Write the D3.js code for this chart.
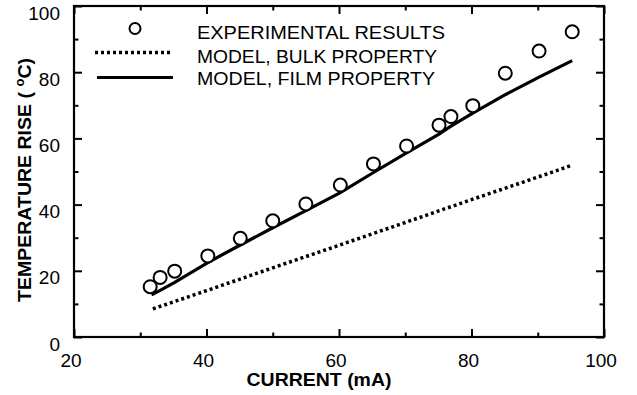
<!DOCTYPE html>
<html>
<head>
<meta charset="utf-8">
<script src="https://cdn.jsdelivr.net/npm/d3@7"></script>
<style>
  body { margin: 0; background: #fff; }
  text { font-family: "Liberation Sans", Arial, Helvetica, sans-serif; fill: #000; }
</style>
</head>
<body>
<div id="chart-area"></div>
<script>
// experimental points
const expCurrent = [31.5, 33.0, 35.2, 40.2, 45.1, 50.0, 55.0, 60.2, 65.2, 70.2, 75.1, 76.9, 80.2, 85.1, 90.2, 95.2];
const expRise    = [15.2, 18.0, 19.9, 24.5, 29.8, 35.1, 40.2, 45.9, 52.3, 57.7, 64.0, 66.6, 69.9, 79.7, 86.4, 92.2];

// model, film property (solid)
const filmCurrent = [31.7, 33.0, 35.2, 40.2, 45.1, 50.0, 55.0, 60.2, 65.2, 70.2, 75.1, 76.9, 80.2, 85.1, 90.2, 95.2];
const filmRise    = [12.7, 14.1, 16.5, 22.5, 27.8, 33.0, 38.2, 43.6, 49.7, 55.6, 61.3, 63.7, 67.6, 73.2, 78.5, 83.5];

// model, bulk property (dotted)
const bulkCurrent = [31.9, 40, 50, 60, 70, 80, 90, 95.3];
const bulkRise    = [8.5, 14.0, 20.9, 27.7, 34.6, 41.5, 48.3, 52.0];

const xMajor = [20, 40, 60, 80, 100];
const xMinor = [30, 50, 70, 90];
const yMajor = [0, 20, 40, 60, 80, 100];
const yMinor = [10, 30, 50, 70, 90];

const legendLabels = ["EXPERIMENTAL RESULTS", "MODEL, BULK PROPERTY", "MODEL, FILM PROPERTY"];

const W = 637, H = 395;
const MARGIN = { LEFT: 74, RIGHT: 33, TOP: 6, BOTTOM: 58 };
const WIDTH = W - MARGIN.LEFT - MARGIN.RIGHT;
const HEIGHT = H - MARGIN.TOP - MARGIN.BOTTOM;

const svg = d3.select("#chart-area").append("svg")
  .attr("width", W).attr("height", H);

const g = svg.append("g")
  .attr("transform", `translate(${MARGIN.LEFT}, ${MARGIN.TOP})`);

const x = d3.scaleLinear().domain([20, 100]).range([0, WIDTH]);
const y = d3.scaleLinear().domain([0, 100]).range([HEIGHT, 0]);

// ticks (all pointing inward)
function tickAxis(axis, values, size, transform) {
  const a = g.append("g")
    .attr("transform", transform)
    .call(axis.tickValues(values).tickSizeInner(-size).tickSizeOuter(0).tickFormat(""));
  a.select(".domain").remove();
  a.selectAll("line").attr("stroke", "#000").attr("stroke-width", 2);
  return a;
}
tickAxis(d3.axisBottom(x), xMajor, 8, `translate(0, ${HEIGHT})`);
tickAxis(d3.axisBottom(x), xMinor, 4.5, `translate(0, ${HEIGHT})`);
tickAxis(d3.axisTop(x), xMajor, 8, "translate(0, 0)");
tickAxis(d3.axisTop(x), xMinor, 4.5, "translate(0, 0)");
tickAxis(d3.axisLeft(y), yMajor, 8, "translate(0, 0)");
tickAxis(d3.axisLeft(y), yMinor, 4.5, "translate(0, 0)");
tickAxis(d3.axisRight(y), yMajor, 8, `translate(${WIDTH}, 0)`);
tickAxis(d3.axisRight(y), yMinor, 4.5, `translate(${WIDTH}, 0)`);

// frame
g.append("rect")
  .attr("x", 0).attr("y", 0)
  .attr("width", WIDTH).attr("height", HEIGHT)
  .attr("fill", "none").attr("stroke", "#000").attr("stroke-width", 2.2);

// tick labels
g.selectAll(".xlab").data(xMajor).enter().append("text")
  .attr("class", "xlab")
  .attr("x", d => x(d) - 3)
  .attr("y", HEIGHT + 30)
  .attr("text-anchor", "middle")
  .attr("font-size", "19px")
  .text(d => d);

g.selectAll(".ylab").data(yMajor).enter().append("text")
  .attr("class", "ylab")
  .attr("x", -14)
  .attr("y", d => y(d) + 13.5)
  .attr("text-anchor", "end")
  .attr("font-size", "19px")
  .text(d => d);

// axis titles
g.append("text")
  .attr("x", 319 - MARGIN.LEFT)
  .attr("y", 386 - MARGIN.TOP)
  .attr("text-anchor", "middle")
  .attr("font-size", "18px")
  .attr("font-weight", "bold")
  .attr("textLength", 145)
  .attr("lengthAdjust", "spacingAndGlyphs")
  .text("CURRENT (mA)");

const yt = svg.append("text")
  .attr("transform", "translate(31, 180) rotate(-90)")
  .attr("text-anchor", "middle")
  .attr("font-size", "18px")
  .attr("font-weight", "bold")
  .attr("textLength", 244)
  .attr("lengthAdjust", "spacingAndGlyphs");
yt.append("tspan").text("TEMPERATURE RISE ( ");
yt.append("tspan").attr("dy", -7).attr("font-size", "12px").text("o");
yt.append("tspan").attr("dy", 7).text("C)");

// model lines
const line = d3.line().x(d => x(d[0])).y(d => y(d[1]));

g.append("path")
  .datum(bulkCurrent.map((c, i) => [c, bulkRise[i]]))
  .attr("d", line)
  .attr("fill", "none").attr("stroke", "#000")
  .attr("stroke-width", 3.5)
  .attr("stroke-dasharray", "3,3");

g.append("path")
  .datum(filmCurrent.map((c, i) => [c, filmRise[i]]))
  .attr("d", line)
  .attr("fill", "none").attr("stroke", "#000")
  .attr("stroke-width", 3.2);

// experimental circles
g.selectAll(".pt").data(expCurrent.map((c, i) => [c, expRise[i]])).enter().append("circle")
  .attr("class", "pt")
  .attr("cx", d => x(d[0]))
  .attr("cy", d => y(d[1]))
  .attr("r", 6.5)
  .attr("fill", "#fff")
  .attr("stroke", "#000")
  .attr("stroke-width", 2);

// legend
const leg = svg.append("g");
leg.append("circle")
  .attr("cx", 135).attr("cy", 28.5).attr("r", 5.5)
  .attr("fill", "#fff").attr("stroke", "#000").attr("stroke-width", 2);
leg.append("line")
  .attr("x1", 95).attr("x2", 171).attr("y1", 52.5).attr("y2", 52.5)
  .attr("stroke", "#000").attr("stroke-width", 3.5).attr("stroke-dasharray", "3,3");
leg.append("line")
  .attr("x1", 97).attr("x2", 173).attr("y1", 77.5).attr("y2", 77.5)
  .attr("stroke", "#000").attr("stroke-width", 3.2);

const legBase = [38.5, 62.5, 85];
const legLen = [248, 240, 238];
leg.selectAll(".lt").data(legendLabels).enter().append("text")
  .attr("class", "lt")
  .attr("x", 197)
  .attr("y", (d, i) => legBase[i])
  .attr("font-size", "17.5px")
  .attr("textLength", (d, i) => legLen[i])
  .attr("lengthAdjust", "spacingAndGlyphs")
  .text(d => d);
</script>
</body>
</html>
